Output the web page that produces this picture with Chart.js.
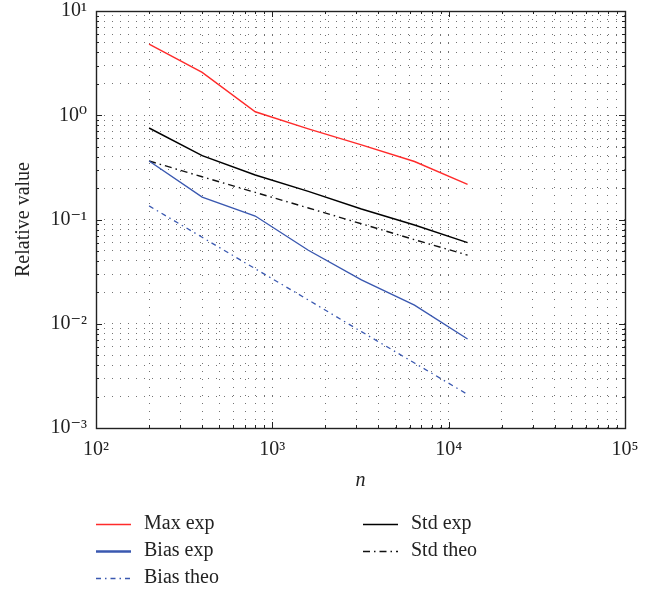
<!DOCTYPE html>
<html>
<head>
<meta charset="utf-8">
<script src="https://cdn.jsdelivr.net/npm/chart.js@4.4.1/dist/chart.umd.min.js"></script>
<style>
  body { margin: 0; background: white; }
  #wrap { width: 656px; height: 594px; }
</style>
</head>
<body>
<div id="wrap"><canvas id="relChart"></canvas></div>
<script>
// sample sizes on the x axis
const nValues = [200, 400, 800, 1600, 3200, 6400, 12800];

// series
const maxExp   = [4.82, 2.58, 1.08, 0.74, 0.52, 0.36, 0.217];
const stdExp   = [0.755, 0.41, 0.267, 0.186, 0.126, 0.0886, 0.06];
const stdTheo  = [0.364, 0.257, 0.182, 0.129, 0.091, 0.064, 0.0455];
const biasExp  = [0.364, 0.164, 0.108, 0.0507, 0.0263, 0.0151, 0.00714];
const biasTheo = [0.135, 0.0675, 0.0337, 0.0169, 0.0084, 0.0042, 0.0021];

// axis decades and their labels
const xDecades = [100, 1000, 10000, 100000];
const xTickLabels = ['10²', '10³', '10⁴', '10⁵'];
const yDecades = [0.001, 0.01, 0.1, 1, 10];
const yTickLabels = ['10⁻³', '10⁻²', '10⁻¹', '10⁰', '10¹'];

const FONT = "'Liberation Serif', 'DejaVu Serif', serif";
const TEXT = '#222';

function points(values) {
  return nValues.map((n, i) => ({x: n, y: values[i]}));
}

// ticks at 1..9 of every decade
function logTicks(decades) {
  const ticks = [];
  for (let i = 0; i < decades.length - 1; i++) {
    for (let k = 1; k < 10; k++) {
      ticks.push({value: k === 1 ? decades[i] : decades[i] * k});
    }
  }
  ticks.push({value: decades[decades.length - 1]});
  return ticks;
}

function isDecade(v) {
  const l = Math.log10(v);
  return Math.abs(l - Math.round(l)) < 1e-9;
}

// box around the plot with inward tick marks on all four sides
const frameAndTicks = {
  id: 'frameAndTicks',
  afterDraw(chart) {
    const {ctx, chartArea: a, scales} = chart;
    ctx.save();
    ctx.strokeStyle = '#222';
    ctx.lineWidth = 1;
    for (const t of scales.x.ticks) {
      const px = Math.round(scales.x.getPixelForValue(t.value)) + 0.5;
      const len = isDecade(t.value) ? 6 : 3;
      ctx.beginPath();
      ctx.moveTo(px, a.bottom); ctx.lineTo(px, a.bottom - len);
      ctx.moveTo(px, a.top); ctx.lineTo(px, a.top + len);
      ctx.stroke();
    }
    for (const t of scales.y.ticks) {
      const py = Math.round(scales.y.getPixelForValue(t.value)) + 0.5;
      const len = isDecade(t.value) ? 6 : 3;
      ctx.beginPath();
      ctx.moveTo(a.left, py); ctx.lineTo(a.left + len, py);
      ctx.moveTo(a.right, py); ctx.lineTo(a.right - len, py);
      ctx.stroke();
    }
    ctx.lineWidth = 1.4;
    ctx.strokeRect(Math.round(a.left) + 0.5, Math.round(a.top) + 0.5,
                   Math.round(a.right - a.left), Math.round(a.bottom - a.top));
    ctx.restore();
  }
};

// two column legend under the plot
const legendBelow = {
  id: 'legendBelow',
  afterDraw(chart) {
    const {ctx} = chart;
    const slots = [
      [96, 524], [96, 551], [96, 578],
      [363, 524], [363, 551]
    ];
    ctx.save();
    ctx.font = '20px ' + FONT;
    ctx.fillStyle = TEXT;
    ctx.textBaseline = 'middle';
    chart.data.datasets.forEach((ds, i) => {
      const [x, y] = slots[i];
      ctx.strokeStyle = ds.borderColor;
      ctx.lineWidth = ds.legendWidth || ds.borderWidth;
      ctx.setLineDash(ds.borderDash || []);
      ctx.beginPath();
      ctx.moveTo(x, y + 0.5);
      ctx.lineTo(x + 35, y + 0.5);
      ctx.stroke();
      ctx.fillText(ds.label, x + 48, y);
    });
    ctx.restore();
  }
};

new Chart('relChart', {
  type: 'line',
  data: {
    datasets: [
      {label: 'Max exp', data: points(maxExp), borderColor: '#ff2b2b', borderWidth: 1.4},
      {label: 'Bias exp', data: points(biasExp), borderColor: '#3a58b0', borderWidth: 1.4, legendWidth: 2.4},
      {label: 'Bias theo', data: points(biasTheo), borderColor: '#3a58b0', borderWidth: 1.3, borderDash: [5, 4, 1.5, 4]},
      {label: 'Std exp', data: points(stdExp), borderColor: '#000000', borderWidth: 1.5},
      {label: 'Std theo', data: points(stdTheo), borderColor: '#111111', borderWidth: 1.4, borderDash: [7, 4, 1.5, 4]},
    ],
  },
  options: {
    responsive: true,
    maintainAspectRatio: false,
    animation: false,
    elements: {
      point: {radius: 0, hoverRadius: 0},
      line: {tension: 0, fill: false},
    },
    layout: {padding: {left: 0, top: 11, right: 31, bottom: 96}},
    scales: {
      x: {
        type: 'logarithmic',
        min: 100,
        max: 100000,
        afterBuildTicks: (scale) => { scale.ticks = logTicks(xDecades); },
        afterFit: (scale) => { scale.height = 70; scale.paddingLeft = 0; scale.paddingRight = 0; },
        ticks: {
          autoSkip: false,
          maxRotation: 0,
          padding: 10,
          color: TEXT,
          font: {family: FONT, size: 20},
          callback: (value) => {
            const i = xDecades.indexOf(value);
            return i >= 0 ? xTickLabels[i] : '';
          },
        },
        grid: {color: 'rgba(0,0,0,0.55)', lineWidth: 1, drawTicks: false},
        border: {display: false, dash: [1, 7]},
        title: {
          display: true,
          text: 'n',
          color: TEXT,
          font: {family: FONT, size: 20, style: 'italic'},
          padding: {top: 0, bottom: 5},
        },
      },
      y: {
        type: 'logarithmic',
        min: 0.001,
        max: 10,
        afterBuildTicks: (scale) => { scale.ticks = logTicks(yDecades); },
        afterFit: (scale) => { scale.width = 96; scale.paddingTop = 0; scale.paddingBottom = 0; },
        ticks: {
          autoSkip: false,
          padding: 9,
          color: TEXT,
          font: {family: FONT, size: 20},
          callback: (value) => {
            const i = yDecades.indexOf(value);
            return i >= 0 ? yTickLabels[i] : '';
          },
        },
        grid: {color: 'rgba(0,0,0,0.55)', lineWidth: 1, drawTicks: false},
        border: {display: false, dash: [1, 7]},
        title: {
          display: true,
          text: 'Relative value',
          color: TEXT,
          font: {family: FONT, size: 20},
          padding: {top: 12, bottom: 0},
        },
      },
    },
    plugins: {
      legend: {display: false},
      tooltip: {enabled: false},
    },
  },
  plugins: [frameAndTicks, legendBelow],
});
</script>
</body>
</html>
